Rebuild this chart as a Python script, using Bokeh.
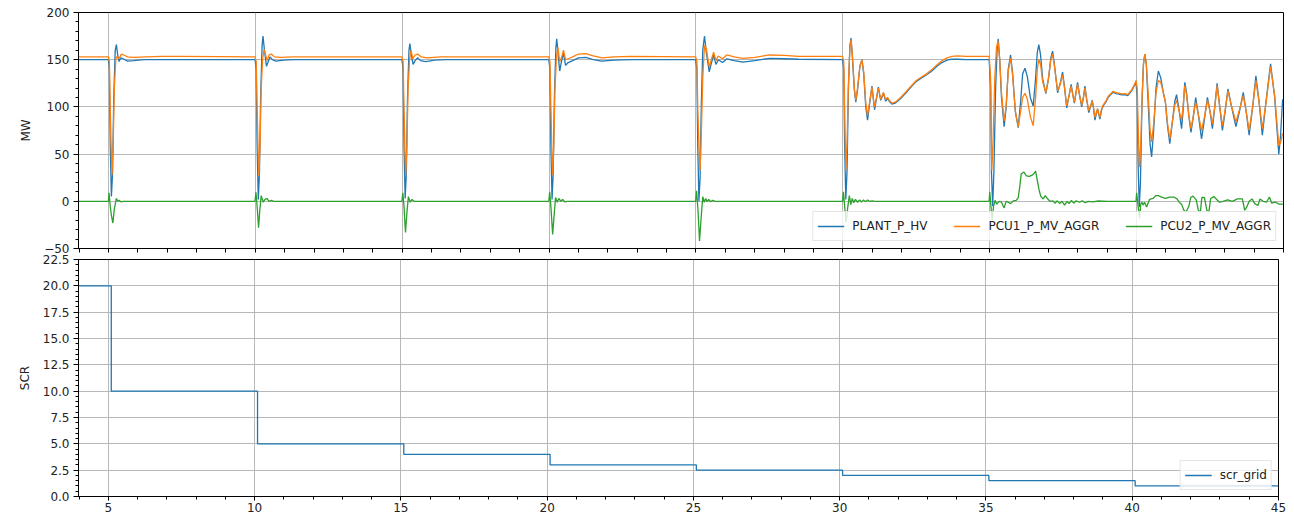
from bokeh.plotting import figure
from bokeh.layouts import column
from bokeh.models import SingleIntervalTicker, FixedTicker, Range1d, PrintfTickFormatter
from bokeh.embed import file_html
from bokeh.resources import INLINE

FONT = "DejaVu Sans"
BLUE, ORANGE, GREEN = "#1f77b4", "#ff7f0e", "#2ca02c"

# ---- data (time [s], value) ----
PLANT_P_HV = [
    (3.98, 150), (5.00, 150),
    (5.03, 140), (5.06, 60), (5.10, 5), (5.14, 30), (5.18, 110), (5.23, 160), (5.27, 166), (5.31, 156),
    (5.36, 148), (5.42, 152), (5.50, 151), (5.65, 148.5), (5.85, 149), (6.2, 150), (9.99, 150),
    (10.03, 140), (10.06, 60), (10.10, 2), (10.14, 30), (10.18, 110), (10.23, 165), (10.26, 175), (10.31, 160),
    (10.38, 143), (10.44, 148), (10.50, 153), (10.58, 150), (10.70, 148.5), (10.95, 149.5), (11.3, 150), (14.99, 150),
    (15.03, 140), (15.06, 60), (15.10, 3), (15.14, 30), (15.18, 110), (15.23, 160), (15.26, 167), (15.31, 155),
    (15.37, 145), (15.44, 149), (15.52, 152), (15.62, 149), (15.80, 148), (16.1, 149.5), (16.5, 150), (19.99, 150),
    (20.03, 140), (20.06, 60), (20.10, 2), (20.14, 30), (20.18, 110), (20.23, 162), (20.26, 172), (20.31, 155),
    (20.36, 138), (20.42, 148), (20.49, 157), (20.56, 144), (20.65, 147), (20.80, 149), (21.0, 152), (21.25, 152.5),
    (21.5, 150), (21.8, 148.5), (22.2, 149.5), (22.8, 150), (24.99, 150),
    (25.03, 140), (25.06, 60), (25.10, 0), (25.14, 25), (25.18, 100), (25.23, 160), (25.29, 175), (25.35, 158),
    (25.45, 137), (25.52, 146), (25.60, 155), (25.68, 145), (25.76, 150), (25.90, 147), (26.05, 151), (26.3, 149),
    (26.6, 147.5), (27.0, 149), (27.5, 151.5), (28.0, 151), (28.5, 150.5), (29.99, 150),
    (30.03, 140), (30.06, 60), (30.10, 2), (30.14, 30), (30.19, 120), (30.24, 165), (30.28, 173), (30.33, 150),
    (30.39, 118), (30.44, 105), (30.50, 118), (30.58, 143), (30.65, 150), (30.71, 135), (30.78, 100), (30.84, 86),
    (30.91, 103), (30.99, 122), (31.04, 108), (31.08, 97), (31.14, 108), (31.21, 121), (31.25, 113), (31.29, 107),
    (31.34, 111), (31.38, 115), (31.42, 110), (31.46, 106), (31.52, 109), (31.58, 106), (31.67, 103), (31.78, 104),
    (31.9, 107), (32.0, 110), (32.15, 115), (32.35, 122), (32.5, 127), (32.69, 131), (32.85, 134), (33.03, 138),
    (33.2, 143), (33.37, 147), (33.55, 149.5), (33.71, 150.5), (33.9, 150.5), (34.2, 150), (34.98, 150),
    (35.03, 120), (35.06, 30), (35.10, -5), (35.14, 30), (35.20, 120), (35.25, 160), (35.29, 172), (35.34, 150),
    (35.40, 110), (35.49, 79), (35.56, 100), (35.63, 140), (35.71, 155), (35.78, 135), (35.87, 95), (35.97, 78),
    (36.05, 105), (36.12, 135), (36.2, 141), (36.28, 132), (36.38, 110), (36.48, 101), (36.56, 130), (36.62, 158),
    (36.67, 166), (36.73, 155), (36.8, 130), (36.91, 114), (37.0, 130), (37.08, 152), (37.14, 159), (37.2, 145),
    (37.31, 115), (37.4, 125), (37.48, 137), (37.55, 120), (37.62, 99), (37.70, 112), (37.77, 124), (37.83, 113),
    (37.88, 104), (37.94, 116), (37.99, 126), (38.06, 112), (38.13, 100), (38.19, 110), (38.24, 122), (38.30, 108),
    (38.37, 94), (38.43, 100), (38.49, 107), (38.54, 97), (38.58, 86), (38.63, 93), (38.67, 98), (38.71, 92),
    (38.75, 87), (38.80, 96), (38.86, 101), (38.95, 105), (39.03, 110), (39.12, 113), (39.2, 115.5), (39.3, 114),
    (39.4, 113.5), (39.49, 112.7), (39.6, 113), (39.7, 112), (39.83, 117), (39.93, 123), (39.98, 126),
    (40.02, 110), (40.05, 40), (40.09, -6), (40.13, 20), (40.18, 100), (40.23, 145), (40.28, 156), (40.33, 145),
    (40.40, 100), (40.46, 60), (40.51, 47), (40.58, 75), (40.66, 120), (40.74, 138), (40.82, 131), (40.91, 115),
    (40.98, 105), (41.05, 80), (41.13, 61), (41.22, 85), (41.30, 106), (41.36, 113), (41.44, 98), (41.53, 77),
    (41.58, 95), (41.64, 126), (41.70, 115), (41.78, 90), (41.85, 73), (41.93, 90), (42.01, 110), (42.10, 92),
    (42.21, 66), (42.30, 85), (42.41, 110), (42.50, 95), (42.58, 77), (42.66, 100), (42.74, 125), (42.83, 100),
    (42.92, 75), (43.0, 92), (43.11, 119), (43.22, 102), (43.38, 79), (43.5, 95), (43.63, 115.5), (43.73, 95),
    (43.83, 70), (43.95, 100), (44.06, 133), (44.17, 105), (44.28, 70), (44.42, 110), (44.56, 145.5), (44.70, 110),
    (44.84, 50), (44.9, 70), (44.97, 108),
]

PCU1_P_MV_AGGR = [
    (3.98, 153), (5.00, 153),
    (5.03, 148), (5.06, 100), (5.09, 60), (5.12, 28), (5.16, 60), (5.20, 120), (5.25, 150), (5.30, 154),
    (5.36, 151), (5.44, 156), (5.52, 155), (5.65, 153), (5.85, 152.5), (6.3, 153), (6.8, 153.5), (7.5, 153.5), (9.99, 153),
    (10.03, 148), (10.06, 100), (10.09, 60), (10.12, 27), (10.16, 60), (10.20, 120), (10.25, 152), (10.30, 161),
    (10.35, 155), (10.40, 149), (10.47, 155), (10.54, 156), (10.65, 153), (10.85, 152.5), (11.3, 153), (14.99, 153),
    (15.03, 148), (15.06, 100), (15.09, 60), (15.12, 28), (15.16, 60), (15.20, 120), (15.25, 150), (15.30, 160),
    (15.36, 151), (15.44, 155), (15.52, 156), (15.65, 153), (15.85, 152), (16.3, 153), (19.99, 153),
    (20.03, 148), (20.06, 100), (20.09, 60), (20.12, 28), (20.16, 60), (20.20, 120), (20.25, 152), (20.30, 163),
    (20.36, 148), (20.42, 152), (20.49, 160), (20.56, 150), (20.65, 151), (20.8, 153), (21.0, 156), (21.25, 156.5),
    (21.5, 154), (21.8, 152), (22.2, 153), (22.8, 153.5), (24.99, 153),
    (25.03, 148), (25.06, 100), (25.10, 60), (25.14, 33), (25.18, 70), (25.23, 130), (25.29, 165), (25.35, 162),
    (25.45, 142), (25.52, 150), (25.60, 158), (25.68, 149), (25.76, 154), (25.90, 151), (26.05, 155), (26.3, 153),
    (26.6, 151.5), (27.0, 152.5), (27.5, 155), (28.0, 154.5), (28.5, 153.5), (29.99, 153.5),
    (30.03, 148), (30.06, 100), (30.10, 33), (30.14, 60), (30.19, 125), (30.24, 163), (30.28, 171), (30.33, 152),
    (30.39, 120), (30.44, 107), (30.50, 120), (30.58, 143), (30.65, 150), (30.71, 137), (30.78, 104), (30.84, 91),
    (30.91, 105), (30.99, 121), (31.04, 108), (31.08, 100), (31.14, 109), (31.21, 120), (31.25, 114), (31.29, 108),
    (31.34, 112), (31.38, 115), (31.42, 111), (31.46, 108), (31.52, 110), (31.58, 107), (31.67, 104), (31.78, 105),
    (31.9, 108), (32.0, 111), (32.15, 116), (32.35, 123), (32.5, 128), (32.69, 132), (32.85, 135), (33.03, 139.5),
    (33.2, 144.5), (33.37, 149), (33.55, 152), (33.71, 153.5), (33.9, 154), (34.2, 153.5), (34.98, 153.5),
    (35.03, 130), (35.07, 33), (35.11, 60), (35.17, 130), (35.23, 163), (35.28, 170), (35.34, 150), (35.40, 115),
    (35.49, 85), (35.56, 102), (35.63, 138), (35.71, 152), (35.78, 133), (35.87, 96), (35.97, 79), (36.05, 95),
    (36.12, 110), (36.2, 114.5), (36.28, 108), (36.38, 90), (36.48, 80), (36.56, 110), (36.62, 140), (36.67, 150.5),
    (36.73, 145), (36.8, 127), (36.91, 115), (37.0, 130), (37.08, 150), (37.14, 156), (37.2, 144), (37.31, 117),
    (37.4, 124), (37.48, 134), (37.55, 119), (37.62, 101), (37.70, 112), (37.77, 122), (37.83, 112), (37.88, 105),
    (37.94, 115), (37.99, 124), (38.06, 112), (38.13, 102), (38.19, 110), (38.24, 120), (38.30, 108), (38.37, 96),
    (38.43, 101), (38.49, 106), (38.54, 98), (38.58, 89), (38.63, 94), (38.67, 98), (38.71, 93), (38.75, 89),
    (38.80, 97), (38.86, 102), (38.95, 106), (39.03, 111), (39.12, 114), (39.2, 116.5), (39.3, 115), (39.4, 114.5),
    (39.49, 113.7), (39.6, 114), (39.7, 113), (39.83, 118), (39.93, 124), (39.98, 128),
    (40.02, 120), (40.06, 70), (40.10, 36), (40.14, 60), (40.19, 115), (40.24, 148), (40.28, 156), (40.33, 146),
    (40.40, 110), (40.46, 75), (40.51, 63), (40.58, 82), (40.66, 115), (40.74, 128), (40.82, 126), (40.91, 115),
    (40.98, 105), (41.05, 83), (41.13, 66), (41.22, 85), (41.30, 102), (41.36, 107), (41.44, 96), (41.53, 86),
    (41.58, 100), (41.64, 122.5), (41.70, 113), (41.78, 90), (41.85, 77), (41.93, 90), (42.01, 105), (42.10, 92),
    (42.21, 75), (42.30, 88), (42.41, 107), (42.50, 95), (42.58, 82), (42.66, 100), (42.74, 122.5), (42.83, 100),
    (42.92, 80), (43.0, 94), (43.11, 117), (43.22, 102), (43.38, 84), (43.5, 97), (43.63, 112), (43.73, 95),
    (43.83, 75), (43.95, 100), (44.06, 128), (44.17, 105), (44.28, 77), (44.42, 108), (44.56, 142.7), (44.70, 112),
    (44.84, 59), (44.9, 62), (44.97, 72),
]

PCU2_P_MV_AGGR = [
    (3.98, 0), (5.00, 0),
    (5.02, 9), (5.06, -5), (5.10, -15), (5.15, -23), (5.20, -8), (5.27, 3), (5.32, 0), (5.36, 1), (5.42, -0.5), (5.5, 0),
    (9.99, 0),
    (10.02, 9.5), (10.06, -5), (10.11, -28), (10.15, -10), (10.20, 6), (10.27, -1), (10.33, 2), (10.40, 3), (10.46, 0),
    (10.55, 1), (10.62, 0), (14.99, 0),
    (15.02, 9), (15.06, -5), (15.11, -33), (15.16, -12), (15.21, 5), (15.27, -1), (15.33, 2), (15.40, 0), (19.99, 0),
    (20.02, 10), (20.06, -5), (20.12, -35), (20.17, -15), (20.22, 4), (20.28, -1), (20.33, 3), (20.40, 0), (20.46, 2),
    (20.53, -0.5), (20.62, 0), (24.99, 0),
    (25.02, 11), (25.07, -10), (25.12, -42), (25.17, -20), (25.23, 5), (25.28, -1), (25.33, 3), (25.38, -0.5),
    (25.43, 2), (25.50, -0.5), (25.57, 1), (25.65, 0), (29.99, 0),
    (30.02, 10), (30.06, -5), (30.11, -22), (30.16, -8), (30.22, 6), (30.27, -3.5), (30.32, 3), (30.37, -1.5),
    (30.43, 2), (30.50, -1), (30.57, 1.5), (30.63, -0.8), (30.70, 1.5), (30.77, -0.5), (30.84, 1.5), (30.90, 0),
    (31.0, 0.5), (31.1, 0), (34.98, 0),
    (35.00, 10), (35.04, -5), (35.08, -20), (35.13, -5), (35.18, 1), (35.24, -3), (35.32, 0), (35.40, -1),
    (35.49, -7), (35.56, 0), (35.63, -1), (35.71, -2.5), (35.80, 0.5), (35.90, 1), (35.97, 4), (36.02, 15),
    (36.07, 29), (36.16, 31), (36.25, 27), (36.35, 26.5), (36.46, 28), (36.52, 30), (36.56, 32), (36.62, 22),
    (36.68, 12), (36.74, 5), (36.82, 2.5), (36.89, 6), (36.96, 3), (37.05, 0), (37.15, 0.5), (37.22, -2),
    (37.3, 0.5), (37.38, -2.5), (37.46, 0), (37.55, -4), (37.63, 0), (37.7, -2.5), (37.78, 1), (37.86, -2),
    (37.94, 0.5), (38.05, -1), (38.15, 0.5), (38.25, -1.5), (38.35, 0), (38.5, -0.5), (38.7, 0.3), (39.0, 0),
    (39.98, 0),
    (40.00, 9), (40.05, -5), (40.10, -18), (40.14, -3), (40.18, -1), (40.22, -4), (40.27, -1), (40.34, -6),
    (40.44, 2), (40.56, 3), (40.65, 6), (40.74, 6), (40.85, 4.5), (40.98, 3), (41.12, 4.5), (41.27, 4.5),
    (41.36, 3), (41.45, -1), (41.53, -3), (41.6, -9), (41.68, -11.5), (41.78, -5), (41.84, 4), (41.92, 5.5),
    (42.03, 1.5), (42.1, -9.5), (42.17, -11.5), (42.22, 4), (42.31, 4), (42.39, -9.5), (42.46, -11), (42.52, 3),
    (42.63, 5), (42.71, 2.5), (42.82, -1), (42.94, 0), (43.1, 1.5), (43.26, 0), (43.43, 2.5), (43.6, 2.5),
    (43.68, -9.5), (43.75, -6), (43.83, 0), (43.93, 2.5), (44.02, -2.5), (44.13, -4.5), (44.2, 2.5), (44.31, 0),
    (44.42, -1), (44.52, 4.5), (44.6, -2), (44.72, -1), (44.85, -3), (44.98, -3),
]

SCR_T = [3.98, 5.1, 10.1, 15.1, 20.1, 25.1, 30.1, 35.1, 40.1, 45.0]
SCR_GRID = [20.0, 10.0, 5.0, 4.0, 3.0, 2.5, 2.0, 1.5, 1.0, 1.0]

X_START, X_END = 3.98, 45.0
X_MINOR = list(range(4, 46))
MW_MIN, MW_MAX = -50, 200
SCR_MIN, SCR_MAX = 0, 22.5


def style(p):
    p.outline_line_color = "black"
    p.outline_line_width = 1
    p.background_fill_color = "white"
    p.border_fill_alpha = 0
    for ax in (p.xaxis[0], p.yaxis[0]):
        ax.axis_line_color = "black"
        ax.major_tick_line_color = "black"
        ax.minor_tick_line_color = "black"
        ax.major_tick_out = 5
        ax.major_tick_in = 0
        ax.minor_tick_out = 3
        ax.minor_tick_in = 0
        ax.major_label_text_font = FONT
        ax.major_label_text_font_size = "12px"
        ax.major_label_text_color = "#222222"
        ax.axis_label_text_font = FONT
        ax.axis_label_text_font_size = "12px"
        ax.axis_label_text_font_style = "normal"
        ax.axis_label_text_color = "#222222"
        ax.major_label_standoff = 4
    p.yaxis[0].axis_label_standoff = 8
    for g in (p.xgrid[0], p.ygrid[0]):
        g.grid_line_color = "#b0b0b0"
        g.grid_line_width = 0.9


def style_legend(lg):
    lg.location = "bottom_right"
    lg.label_text_font = FONT
    lg.label_text_font_size = "12px"
    lg.label_text_color = "#222222"
    lg.glyph_width = 27
    lg.label_standoff = 8
    lg.padding = 4
    lg.border_line_color = "#cccccc"
    lg.background_fill_alpha = 0.8


top = figure(frame_width=1205, frame_height=236, min_border_left=73, min_border_right=16,
             min_border_top=12, min_border_bottom=12,
             x_range=Range1d(X_START, X_END), y_range=Range1d(MW_MIN, MW_MAX),
             output_backend="svg", toolbar_location=None)
top.xaxis.ticker = FixedTicker(ticks=[], minor_ticks=X_MINOR)
top.xgrid.ticker = SingleIntervalTicker(interval=5)
top.yaxis.ticker = SingleIntervalTicker(interval=50, num_minor_ticks=5)
top.yaxis.axis_label = "MW"
top.yaxis.major_label_overrides = {-50: "\u221250"}
style(top)
top.xaxis.minor_tick_out = 4

series = [("PLANT_P_HV", PLANT_P_HV, BLUE), ("PCU1_P_MV_AGGR", PCU1_P_MV_AGGR, ORANGE),
          ("PCU2_P_MV_AGGR", PCU2_P_MV_AGGR, GREEN)]
for name, data, col in series:
    xs = [d[0] for d in data]
    ys = [d[1] for d in data]
    top.line(xs, ys, line_color=col, line_width=1.3, legend_label=name)

style_legend(top.legend[0])
top.legend.orientation = "horizontal"
top.legend.spacing = 26
top.legend.margin = 7

bottom = figure(frame_width=1200, frame_height=237, min_border_left=78, min_border_right=16,
                min_border_top=12, min_border_bottom=20,
                x_range=Range1d(X_START, X_END), y_range=Range1d(SCR_MIN, SCR_MAX),
                output_backend="svg", toolbar_location=None)
bottom.margin = (-13, 0, 0, 0)
bottom.xaxis.ticker = SingleIntervalTicker(interval=5, num_minor_ticks=5)
bottom.yaxis.ticker = SingleIntervalTicker(interval=2.5, num_minor_ticks=5)
bottom.yaxis.formatter = PrintfTickFormatter(format="%.1f")
bottom.yaxis.axis_label = "SCR"
style(bottom)
bottom.xaxis.major_tick_out = 4
bottom.xaxis.major_label_standoff = 2
bottom.step(SCR_T, SCR_GRID, mode="after", line_color=BLUE, line_width=1.3, legend_label="scr_grid")
style_legend(bottom.legend[0])
bottom.legend.margin = 6

layout = column(top, bottom, spacing=0)
open("out.html", "w").write(file_html(layout, INLINE))
